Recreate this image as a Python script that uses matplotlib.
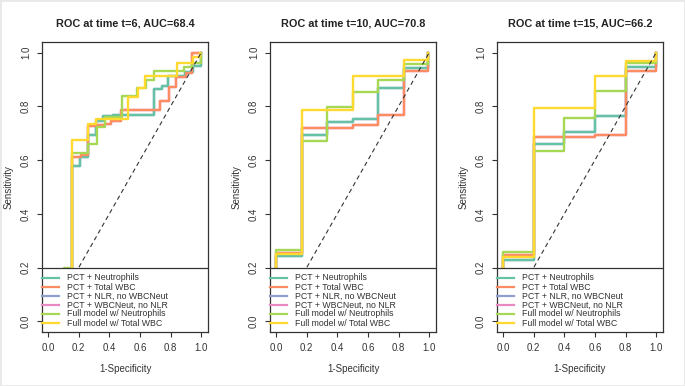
import matplotlib
matplotlib.use("Agg")
import matplotlib.pyplot as plt
from matplotlib.patches import Rectangle

plt.rcParams['font.family'] = ['Liberation Sans', 'DejaVu Sans']

# series names and colours (Set2)
labels = ["PCT + Neutrophils", "PCT + Total WBC", "PCT + NLR, no WBCNeut",
          "PCT + WBCNeut, no NLR", "Full model w/ Neutrophils", "Full model w/ Total WBC"]
colors = ["#66C2A5", "#FC8D62", "#8DA0CB", "#E78AC3", "#A6D854", "#FFD92F"]

titles = ["ROC at time t=6, AUC=68.4", "ROC at time t=10, AUC=70.8", "ROC at time t=15, AUC=66.2"]

# ---- t=6 ----
t6_neut_x = [0, 0.105, 0.158, 0.206, 0.261, 0.312, 0.36, 0.425, 0.69, 0.745, 0.785, 0.895, 0.945, 1.0]
t6_neut_y = [0, 0.10, 0.578, 0.612, 0.695, 0.745, 0.765, 0.77, 0.866, 0.878, 0.915, 0.93, 0.95, 1.0]
t6_wbc_x = [0, 0.105, 0.158, 0.213, 0.261, 0.317, 0.37, 0.41, 0.475, 0.734, 0.79, 0.833, 0.9, 0.943, 1.0]
t6_wbc_y = [0, 0.10, 0.612, 0.62, 0.726, 0.73, 0.735, 0.746, 0.785, 0.822, 0.874, 0.909, 0.925, 1.0, 1.0]
t6_full_neut_x = [0, 0.105, 0.158, 0.261, 0.317, 0.37, 0.48, 0.58, 0.64, 0.69, 0.89, 0.94, 1.0]
t6_full_neut_y = [0, 0.20, 0.625, 0.659, 0.723, 0.76, 0.838, 0.868, 0.90, 0.931, 0.946, 0.96, 1.0]
t6_full_wbc_x = [0, 0.105, 0.158, 0.261, 0.314, 0.525, 0.585, 0.635, 0.842, 0.947, 0.995]
t6_full_wbc_y = [0, 0.10, 0.674, 0.736, 0.752, 0.836, 0.87, 0.915, 0.963, 0.985, 1.0]

# ---- t=10 ----
t10_x = [0, 0, 0.167, 0.333, 0.5, 0.667, 0.833, 0.993]
t10_neut_y = [0, 0.242, 0.695, 0.742, 0.753, 0.869, 0.943, 1.0]
t10_wbc_y = [0, 0.255, 0.72, 0.72, 0.73, 0.767, 0.932, 1.0]
t10_full_neut_y = [0, 0.267, 0.671, 0.797, 0.852, 0.898, 0.958, 1.0]
t10_full_wbc_y = [0, 0.25, 0.787, 0.787, 0.913, 0.913, 0.972, 1.0]

# ---- t=15 ----
t15_x = [0, 0, 0.2, 0.4, 0.6, 0.8, 0.998]
t15_neut_y = [0, 0.228, 0.659, 0.704, 0.765, 0.946, 1.0]
t15_wbc_y = [0, 0.246, 0.685, 0.685, 0.694, 0.933, 1.0]
t15_full_neut_y = [0, 0.257, 0.634, 0.758, 0.857, 0.96, 1.0]
t15_full_wbc_y = [0, 0.24, 0.795, 0.795, 0.914, 0.97, 1.0]

# NLR / WBCNeut curves are hidden underneath (same as the PCT curves)
panels = [
    [(t6_neut_x, t6_neut_y), (t6_wbc_x, t6_wbc_y), (t6_neut_x, t6_neut_y), (t6_wbc_x, t6_wbc_y),
     (t6_full_neut_x, t6_full_neut_y), (t6_full_wbc_x, t6_full_wbc_y)],
    [(t10_x, t10_neut_y), (t10_x, t10_wbc_y), (t10_x, t10_neut_y), (t10_x, t10_wbc_y),
     (t10_x, t10_full_neut_y), (t10_x, t10_full_wbc_y)],
    [(t15_x, t15_neut_y), (t15_x, t15_wbc_y), (t15_x, t15_neut_y), (t15_x, t15_wbc_y),
     (t15_x, t15_full_neut_y), (t15_x, t15_full_wbc_y)],
]
draw_order = [2, 3, 0, 1, 4, 5]

fig = plt.figure(figsize=(6.85, 3.86), dpi=100)
fig.patches.append(Rectangle((0, 0), 1, 1, transform=fig.transFigure, fill=False,
                             edgecolor="#e8e8e8", linewidth=2.0))

lefts = [42 / 685, 270 / 685, 497 / 685]
for k in range(3):
    ax = fig.add_axes([lefts[k], 54 / 386, 166 / 685, 290 / 386])
    for i in draw_order:
        xs, ys = panels[k][i]
        ax.plot(xs, ys, drawstyle="steps-post", color=colors[i], lw=1.7, zorder=2)
    ax.plot([0, 1], [0, 1], color="#333333", lw=0.8, ls=(0, (4, 3)), zorder=3)
    ax.set_xlim(-0.04, 1.045)
    ax.set_ylim(-0.04, 1.04)
    ax.set_xticks([0, 0.2, 0.4, 0.6, 0.8, 1.0])
    ax.set_yticks([0, 0.2, 0.4, 0.6, 0.8, 1.0])
    ax.set_xticklabels(["0.0", "0.2", "0.4", "0.6", "0.8", "1.0"])
    ax.set_yticklabels(["0.0", "0.2", "0.4", "0.6", "0.8", "1.0"], rotation=90, va="center")
    ax.tick_params(length=3.5, width=0.8, color="#333333", labelsize=6.9, labelcolor="#333333", pad=4.5)
    for s in ax.spines.values():
        s.set_linewidth(0.9)
        s.set_color("#333333")
    ax.set_xlabel("1-Specificity", fontsize=7, color="#333333", labelpad=7.5)
    ax.set_ylabel("Sensitivity", fontsize=7, color="#333333", labelpad=5.5)
    ax.set_title(titles[k], fontsize=7.8, fontweight="bold", color="#222222", pad=11)

    # legend box covering the lower part of the plot
    top = (0.2 + 0.04) / 1.08
    ax.add_patch(Rectangle((0, 0), 1, top, transform=ax.transAxes, facecolor="white",
                           edgecolor="#333333", linewidth=0.9, zorder=5))
    for i, name in enumerate(labels):
        yy = (332 - 278) / 290 - i * 9 / 290
        ax.plot([0.0, 0.1], [yy, yy], transform=ax.transAxes, color=colors[i], lw=1.6,
                zorder=6, clip_on=False)
        ax.text(0.15, yy, name, transform=ax.transAxes, fontsize=6.3, color="#333333",
                va="center", ha="left", zorder=6)

fig.savefig("out.png", dpi=100)
